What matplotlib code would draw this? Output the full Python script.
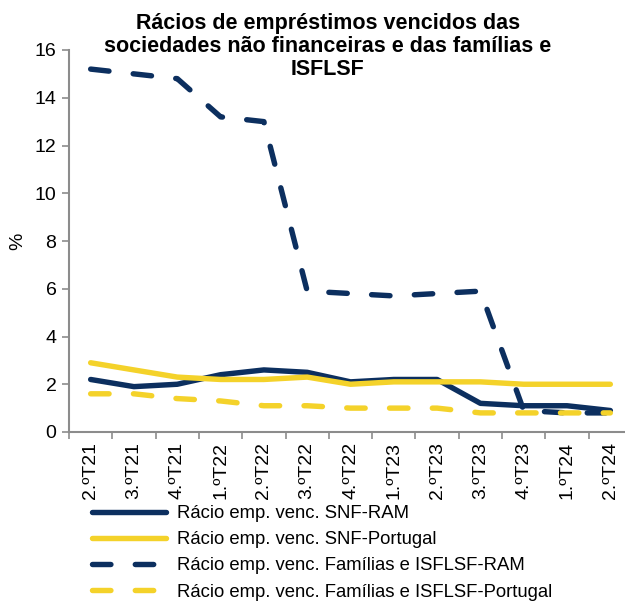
import numpy as np
import matplotlib.pyplot as plt

plt.rcParams['font.family'] = ['Liberation Sans', 'DejaVu Sans']

# Quarterly ratios (%)
quarters = ['2.ºT21', '3.ºT21', '4.ºT21', '1.ºT22', '2.ºT22', '3.ºT22', '4.ºT22',
            '1.ºT23', '2.ºT23', '3.ºT23', '4.ºT23', '1.ºT24', '2.ºT24']
snf_ram = [2.2, 1.9, 2.0, 2.4, 2.6, 2.5, 2.1, 2.2, 2.2, 1.2, 1.1, 1.1, 0.9]
snf_pt = [2.9, 2.6, 2.3, 2.2, 2.2, 2.3, 2.0, 2.1, 2.1, 2.1, 2.0, 2.0, 2.0]
fam_ram = [15.2, 15.0, 14.8, 13.2, 13.0, 5.9, 5.8, 5.7, 5.8, 5.9, 0.9, 0.8, 0.8]
fam_pt = [1.6, 1.6, 1.4, 1.3, 1.1, 1.1, 1.0, 1.0, 1.0, 0.8, 0.8, 0.8, 0.8]

navy = '#0c2f5f'
yellow = '#f4d22a'
gray = '#8c8c8c'

fig = plt.figure(figsize=(6.25, 6.05), dpi=100)
ax = fig.add_axes([69 / 625, 173 / 605, 563 / 625, 382 / 605])

x = np.arange(len(quarters))
lw = 3.9
ax.plot(x, snf_ram, color=navy, lw=lw, solid_capstyle='round', solid_joinstyle='round',
        label='Rácio emp. venc. SNF-RAM')
ax.plot(x, snf_pt, color=yellow, lw=lw, solid_capstyle='round', solid_joinstyle='round',
        label='Rácio emp. venc. SNF-Portugal')
ax.plot(x, fam_ram, color=navy, lw=lw, dashes=(3.4, 4.5), dash_capstyle='round',
        label='Rácio emp. venc. Famílias e ISFLSF-RAM')
ax.plot(x, fam_pt, color=yellow, lw=lw, dashes=(3.4, 4.5), dash_capstyle='round',
        label='Rácio emp. venc. Famílias e ISFLSF-Portugal')

ax.set_xlim(-0.5, len(quarters) - 0.5)
ax.set_ylim(0, 16)
ax.set_yticks(np.arange(0, 17, 2))
ax.set_xticks(np.arange(-0.5, len(quarters) - 1, 1))
ax.set_xticklabels([])
ax.set_xticks(x, minor=True)
ax.set_xticklabels(quarters, minor=True, rotation=90, va='top', ha='center')
ax.tick_params(axis='x', which='minor', length=0, pad=7, labelsize=14)
ax.tick_params(axis='x', which='major', length=5, color=gray, width=1.2)
ax.tick_params(axis='y', length=5, color=gray, width=1.2, labelsize=14, pad=4)

for side in ['top', 'right']:
    ax.spines[side].set_visible(False)
for side in ['left', 'bottom']:
    ax.spines[side].set_color(gray)
    ax.spines[side].set_linewidth(1.5)

ax.set_ylabel('%', fontsize=14, labelpad=6)

fig.text(328 / 625, 1 - 13 / 605,
         'Rácios de empréstimos vencidos das\nsociedades não financeiras e das famílias e\nISFLSF',
         ha='center', va='top', fontsize=15.5, fontweight='bold', linespacing=1.12)

fig.legend(loc='upper left', bbox_to_anchor=(92 / 625, 1 - 505 / 605), frameon=False,
           fontsize=13.3, handlelength=4.0, handletextpad=0.6, labelspacing=0.5,
           borderaxespad=0, borderpad=0)

fig.savefig('out.png', dpi=100)
